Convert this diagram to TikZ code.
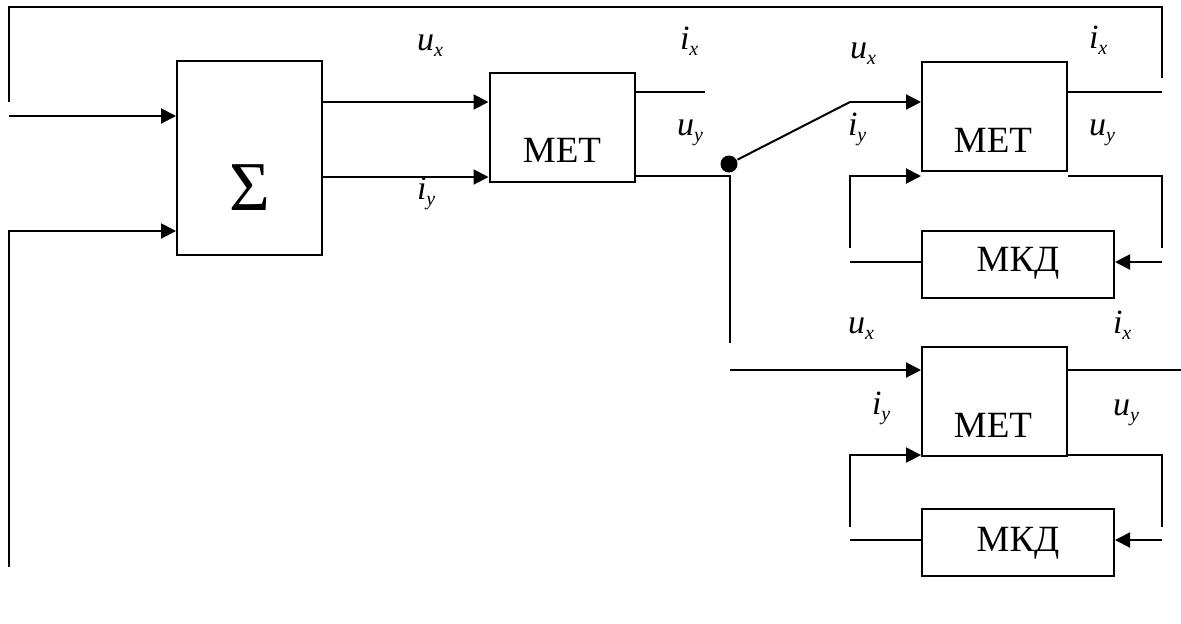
\documentclass[tikz,border=0pt]{standalone}
\usepackage{fontspec}
\setmainfont{Liberation Serif}
\usetikzlibrary{arrows.meta}
\newcommand\sublab[2]{\fontsize{17}{19}\selectfont\textit{#1}\raisebox{-3pt}{\fontsize{10}{11}\selectfont\textit{#2}}}
\begin{document}
\begin{tikzpicture}[x=0.5pt,y=-0.5pt,line width=1pt,
  >={Triangle[length=7.5pt,width=7.5pt]},
  blk/.style={draw,line width=1pt,inner sep=0pt},
  sigbox/.style={blk,minimum width=72.5pt,minimum height=97pt},
  metbox/.style={blk,minimum width=72.5pt,minimum height=54.5pt},
  mkdbox/.style={blk,minimum width=96pt,minimum height=33.5pt},
  btxt/.style={anchor=base,inner sep=0pt,font=\fontsize{18.5}{20}\selectfont},
  lab/.style={anchor=base west,inner sep=0pt}]
\useasboundingbox (0,0) rectangle (1181,623);

% blocks
\node[sigbox] (sig) at (249.5,158) {};
\node[metbox] (met1) at (562,127) {};
\node[metbox] (met2) at (994.5,116.5) {};
\node[mkdbox] (mkd1) at (1018,264.5) {};
\node[metbox] (met3) at (994.5,401.5) {};
\node[mkdbox] (mkd2) at (1018,542.5) {};

% block texts
\node[anchor=base,inner sep=0pt,font=\fontsize{35}{38}\selectfont] (sigt) at (249.5,210) {Σ};
\node[btxt] (met1t) at (562,162) {МЕТ};
\node[btxt] (met2t) at (993,152) {МЕТ};
\node[btxt] (met3t) at (993,437) {МЕТ};
\node[btxt] (mkd1t) at (1018,271) {МКД};
\node[btxt] (mkd2t) at (1018,551) {МКД};

% labels
\node[lab] (l1) at (416,50) {\sublab{u}{x}};
\node[lab] (l2) at (416,199) {\sublab{i}{y}};
\node[lab] (l3) at (679,49) {\sublab{i}{x}};
\node[lab] (l4) at (676,135) {\sublab{u}{y}};
\node[lab] (l5) at (849,58) {\sublab{u}{x}};
\node[lab] (l6) at (847,135) {\sublab{i}{y}};
\node[lab] (l7) at (1088,48) {\sublab{i}{x}};
\node[lab] (l8) at (1088,135) {\sublab{u}{y}};
\node[lab] (l9) at (847,333) {\sublab{u}{x}};
\node[lab] (l10) at (1112,333) {\sublab{i}{x}};
\node[lab] (l11) at (871,414) {\sublab{i}{y}};
\node[lab] (l12) at (1112,415) {\sublab{u}{y}};

% coordinates of free ends
\coordinate (fbL) at (9,102);
\coordinate (fbT) at (0,7);
\coordinate (fbR) at (1162,78);
\coordinate (in1) at (9,116);
\coordinate (in2) at (9,567);
\coordinate (in2h) at (0,231);
\coordinate (o1) at (705,92);
\coordinate (j1) at (730,176);
\coordinate (j2) at (730,343);
\coordinate (j3) at (730,370);
\coordinate (sw2) at (850,102);
\coordinate (r1) at (1162,92);
\coordinate (r2) at (1162,176);
\coordinate (r2b) at (1162,248);
\coordinate (q1) at (850,248);
\coordinate (q1t) at (850,176);
\coordinate (m1l) at (850,262);
\coordinate (m1r) at (1162,262);
\coordinate (r3) at (1181,370);
\coordinate (r4) at (1162,455);
\coordinate (r4b) at (1162,527);
\coordinate (q2) at (850,527);
\coordinate (q2t) at (850,455);
\coordinate (m2l) at (850,540);
\coordinate (m2r) at (1162,540);

% switch dot
\node[circle,fill,inner sep=0pt,minimum size=8.5pt] (dot) at (729,164) {};

% top feedback
\draw (fbL) -- (fbL |- fbT) -- (fbR |- fbT) -- (fbR);
% inputs of sigma
\draw[->] (in1) -- (sig.west |- in1);
\draw[->] (in2) -- (in2 |- in2h) -- (sig.west |- in2h);
% sigma to MET1
\draw[->] (sig.east |- 0,102) -- (met1.west |- 0,102);
\draw[->] (sig.east |- 0,177) -- (met1.west |- 0,177);
% MET1 outputs
\draw (met1.east |- o1) -- (o1);
\draw (met1.east |- j1) -- (j1) -- (j2);
% switch
\draw (dot) -- (sw2);
\draw[->] (sw2) -- (met2.west |- sw2);
% MET2 outputs and feedback
\draw (met2.east |- r1) -- (r1);
\draw (met2.east |- r2) -- (r2) -- (r2b);
\draw[->] (q1) -- (q1t) -- (met2.west |- q1t);
\draw (m1l) -- (mkd1.west |- m1l);
\draw[->] (m1r) -- (mkd1.east |- m1r);
% MET3
\draw[->] (j3) -- (met3.west |- j3);
\draw (met3.east |- r3) -- (r3);
\draw (met3.east |- r4) -- (r4) -- (r4b);
\draw[->] (q2) -- (q2t) -- (met3.west |- q2t);
\draw (m2l) -- (mkd2.west |- m2l);
\draw[->] (m2r) -- (mkd2.east |- m2r);
\end{tikzpicture}
\end{document}
